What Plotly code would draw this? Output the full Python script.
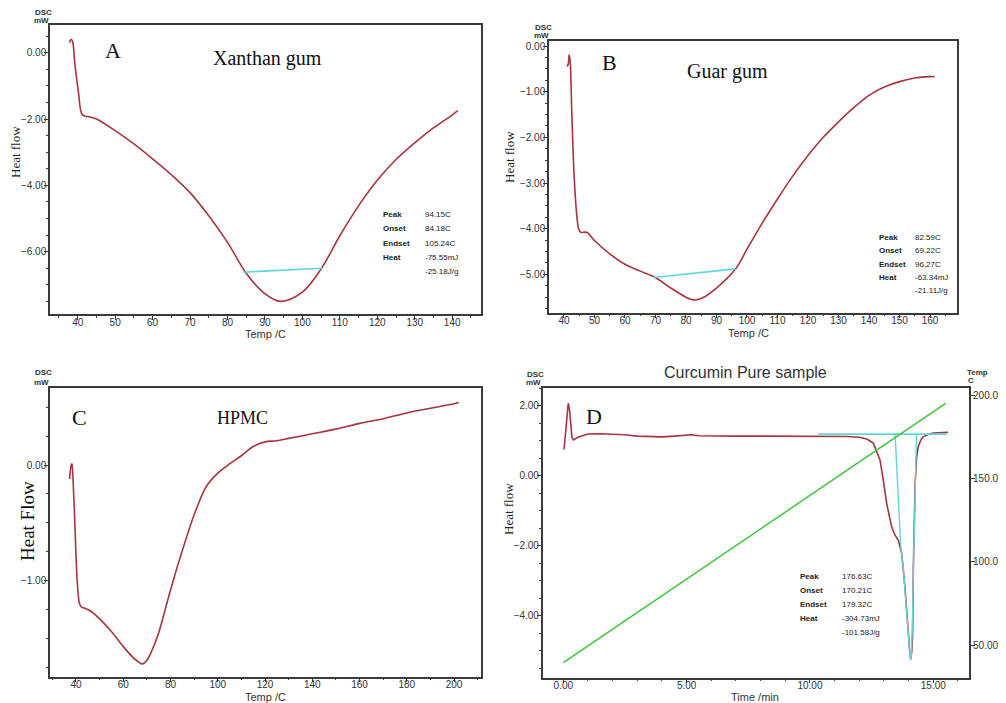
import plotly.graph_objects as go

W, H = 1006, 703
OFF = 8  # the page body margin shifts the figure by 8px
FW, FH = W - OFF, H - OFF

# ---------------- data ----------------
# Panel A : Xanthan gum
A_temp = [37.8, 38.2, 38.6, 39.2, 40.2, 41.1, 42.0, 43.0, 45.0, 50, 55, 60, 65, 70, 75, 80, 85, 90, 94.15,
          100, 105, 110, 115, 120, 125, 130, 135, 140, 141.5]
A_heat = [0.30, 0.40, 0.35, -0.30, -1.20, -1.85, -1.92, -1.93, -2.00, -2.35, -2.75, -3.20, -3.68, -4.22, -4.92,
          -5.72, -6.65, -7.27, -7.50, -7.22, -6.52, -5.52, -4.62, -3.85, -3.22, -2.72, -2.27, -1.88, -1.75]
A_base_temp = [84.18, 105.24]
A_base_heat = [-6.62, -6.50]
A_stats_labels = ["Peak", "Onset", "Endset", "Heat", ""]
A_stats_values = ["94.15C", "84.18C", "105.24C", "-75.55mJ", "-25.18J/g"]

# Panel B : Guar gum
B_temp = [41.0, 41.4, 41.7, 42.0, 42.6, 43.3, 44.2, 44.8, 45.5, 47.5, 50, 55, 60, 65, 70, 75, 80, 82.6, 85, 90,
          96.3, 100, 105, 110, 115, 120, 125, 130, 135, 140, 145, 150, 155, 160, 161.5]
B_heat = [-0.45, -0.40, -0.20, -0.30, -1.50, -2.80, -3.70, -4.00, -4.08, -4.08, -4.26, -4.55, -4.78, -4.93, -5.07,
          -5.30, -5.50, -5.56, -5.53, -5.30, -4.88, -4.45, -3.88, -3.35, -2.85, -2.40, -2.00, -1.66, -1.35,
          -1.08, -0.90, -0.78, -0.70, -0.67, -0.67]
B_base_temp = [69.22, 96.27]
B_base_heat = [-5.07, -4.88]
B_stats_labels = ["Peak", "Onset", "Endset", "Heat", ""]
B_stats_values = ["82.59C", "69.22C", "96.27C", "-63.34mJ", "-21.11J/g"]

# Panel C : HPMC
C_temp = [37.3, 37.6, 38.0, 38.3, 38.7, 39.5, 40.5, 41.5, 42.5, 44, 46, 50, 55, 60, 65, 68, 70, 72, 75, 80, 85, 90,
          95, 100, 105, 110, 115, 120, 125, 130, 140, 150, 160, 170, 180, 190, 200, 202]
C_heat = [-0.12, -0.05, 0.00, 0.01, -0.10, -0.50, -1.00, -1.20, -1.23, -1.24, -1.26, -1.33, -1.44, -1.57, -1.68,
          -1.72, -1.69, -1.61, -1.45, -1.08, -0.74, -0.43, -0.19, -0.07, 0.01, 0.08, 0.16, 0.20, 0.21, 0.23, 0.27,
          0.31, 0.36, 0.40, 0.45, 0.49, 0.53, 0.54]

# Panel D : Curcumin pure sample
D_time = [0.03, 0.10, 0.15, 0.20, 0.25, 0.30, 0.35, 0.41, 0.50, 0.60, 0.80, 1.0, 1.5, 2.0, 2.5, 3.0, 3.5, 4.0, 4.5,
          5.0, 5.2, 5.5, 6.0, 7.0, 8.0, 9.0, 10.0, 11.0, 11.5, 12.0, 12.3, 12.57, 12.84, 12.97, 13.11, 13.31, 13.45,
          13.58, 13.72, 13.85, 13.92, 13.99, 14.05, 14.09, 14.13, 14.16, 14.19, 14.26, 14.32, 14.39, 14.5, 14.59,
          14.8, 15.0, 15.3, 15.6]
D_heat = [0.75, 1.30, 1.90, 2.07, 1.90, 1.35, 1.10, 1.02, 1.06, 1.10, 1.15, 1.19, 1.20, 1.19, 1.17, 1.13, 1.11, 1.11,
          1.13, 1.16, 1.17, 1.14, 1.13, 1.13, 1.13, 1.13, 1.14, 1.13, 1.12, 1.10, 1.05, 0.93, 0.45, -0.12, -0.79,
          -1.46, -1.70, -1.84, -2.22, -3.17, -3.93, -4.60, -5.07, -5.25, -5.00, -4.60, -2.69, -0.31, 0.50, 0.83,
          1.02, 1.11, 1.18, 1.22, 1.24, 1.24]
D_peak_time = [13.45, 13.50, 13.58, 13.68, 13.78, 13.88, 13.97, 14.05, 14.10, 14.15, 14.20, 14.26, 14.32]
D_peak_heat = [1.19, 0.50, -0.80, -2.00, -2.60, -3.50, -4.40, -5.10, -5.25, -4.40, -2.50, -0.30, 1.19]
D_base_time = [10.35, 15.55]
D_base_heat = [1.19, 1.19]
D_prog_time = [0.0, 15.5]
D_prog_temp = [39.4, 195.0]
D_stats_labels = ["Peak", "Onset", "Endset", "Heat", ""]
D_stats_values = ["176.63C", "170.21C", "179.32C", "-304.73mJ", "-101.58J/g"]

# ---------------- styling ----------------
RED = "#a8343f"
CYAN = "#5ed6dc"
GREEN = "#3fc43a"
AXC = "#3a3a3a"
SERIF = "Liberation Serif"
SANS = "Liberation Sans"


def fx(p):
    return (p - OFF) / FW


def fy(p):
    return 1 - (p - OFF) / FH


fig = go.Figure()

# A
fig.add_trace(go.Scatter(x=A_temp, y=A_heat, mode="lines", line=dict(color=RED, width=1.6, shape="spline",
                         smoothing=1.0), xaxis="x", yaxis="y"))
fig.add_trace(go.Scatter(x=A_base_temp, y=A_base_heat, mode="lines", line=dict(color=CYAN, width=1.6), xaxis="x",
                         yaxis="y"))
# B
fig.add_trace(go.Scatter(x=B_temp, y=B_heat, mode="lines", line=dict(color=RED, width=1.6, shape="spline",
                         smoothing=0.8), xaxis="x2", yaxis="y2"))
fig.add_trace(go.Scatter(x=B_base_temp, y=B_base_heat, mode="lines", line=dict(color=CYAN, width=1.6), xaxis="x2",
                         yaxis="y2"))
# C
fig.add_trace(go.Scatter(x=C_temp, y=C_heat, mode="lines", line=dict(color=RED, width=1.6, shape="spline",
                         smoothing=0.8), xaxis="x3", yaxis="y3"))
# D
fig.add_trace(go.Scatter(x=D_prog_time, y=D_prog_temp, mode="lines", line=dict(color=GREEN, width=1.5), xaxis="x4",
                         yaxis="y5"))
fig.add_trace(go.Scatter(x=D_time, y=D_heat, mode="lines", line=dict(color=RED, width=1.6), xaxis="x4", yaxis="y4"))
fig.add_trace(go.Scatter(x=D_base_time, y=D_base_heat, mode="lines", line=dict(color=CYAN, width=1.8), xaxis="x4",
                         yaxis="y4"))
fig.add_trace(go.Scatter(x=D_peak_time, y=D_peak_heat, mode="lines", line=dict(color=CYAN, width=1.4), xaxis="x4",
                         yaxis="y4"))


def ax(domain, rng, dtick, minor, fmt, anchor, mirror=True, side=None, standoff=-4):
    d = dict(domain=domain, range=rng, dtick=dtick, tick0=0, tickformat=fmt, anchor=anchor,
             showline=True, linecolor=AXC, linewidth=1.5, mirror=mirror, ticks="outside", ticklen=4,
             tickwidth=1, tickcolor=AXC, showgrid=False, zeroline=False, automargin=False,
             ticklabelstandoff=standoff,
             tickfont=dict(family=SANS, size=10, color="#333"),
             minor=dict(dtick=minor, tick0=0, ticks="outside", ticklen=2, tickcolor=AXC, showgrid=False))
    if side:
        d["side"] = side
    return d


layout = dict(
    width=FW, height=FH, margin=dict(l=0, r=0, t=0, b=0), showlegend=False,
    paper_bgcolor="white", plot_bgcolor="white",
    xaxis=ax([fx(50), fx(481)], [32.6, 147.7], 10, 5, "d", "y", standoff=-6),
    yaxis=ax([fy(314), fy(25)], [-7.88, 0.835], 2, 0.5, ".2f", "x"),
    xaxis2=ax([fx(549), fx(956.7)], [35.1, 168.75], 10, 5, "d", "y2", standoff=-6),
    yaxis2=ax([fy(312.7), fy(40.7)], [-5.84, 0.116], 1, 0.25, ".2f", "x2"),
    xaxis3=ax([fx(50), fx(481)], [29, 211.4], 20, 10, "d", "y3", standoff=-6),
    yaxis3=ax([fy(676.7), fy(388.3)], [-1.83, 0.663], 1, 0.25, ".2f", "x3"),
    xaxis4=ax([fx(542.7), fx(969.3)], [-0.835, 16.46], 5, 1, ".2f", "y4", standoff=-6),
    yaxis4=ax([fy(677.7), fy(387.7)], [-5.77, 2.514], 2, 0.5, ".2f", "x4", mirror=False),
)
y5 = ax([fy(677.7), fy(387.7)], [30.4, 204.4], 50, 10, ".2f", "x4", mirror=False, side="right")
y5["overlaying"] = "y4"
y5["minor"] = dict(ticks="")
layout["yaxis5"] = y5
fig.update_layout(**layout)

ann = []


def text(x, y, s, size, family=SANS, color="#222", angle=0, xanchor="center"):
    ann.append(dict(x=fx(x), y=fy(y), xref="paper", yref="paper", text=s, showarrow=False, textangle=angle,
                    font=dict(family=family, size=size, color=color), xanchor=xanchor, yanchor="middle"))


# panel letters and sample names
text(113, 50, "A", 22, SERIF, "#111")
text(267, 58, "Xanthan gum", 20, SERIF, "#111")
text(609, 63, "B", 22, SERIF, "#111")
text(727, 72, "Guar gum", 20, SERIF, "#111")
text(79, 417, "C", 22, SERIF, "#111")
text(242, 418, "HPMC", 18, SERIF, "#111")
text(594, 416, "D", 22, SERIF, "#111")
text(745, 372, "Curcumin Pure sample", 16, SANS, "#333")

# DSC / mW unit labels
for (x1, y1, x2, y2) in [(43, 12, 41, 21), (543, 27, 541, 35), (43, 373, 41, 382), (535, 374, 533, 382)]:
    text(x1, y1, "<b>DSC</b>", 8, SANS, "#333")
    text(x2, y2, "<b>mW</b>", 8, SANS, "#333")
text(977, 373, "<b>Temp</b>", 8, SANS, "#333")
text(971, 381, "<b>C</b>", 8, SANS, "#333")

# axis titles
text(15, 152, "Heat flow", 13, SERIF, "#222", -90)
text(510, 157, "Heat flow", 13, SERIF, "#222", -90)
text(27, 521, "Heat Flow", 19, SERIF, "#111", -90)
text(508, 509, "Heat flow", 13, SERIF, "#222", -90)
text(265, 334, "Temp /C", 11, SANS, "#333")
text(748, 333, "Temp /C", 11, SANS, "#333")
text(265, 697, "Temp /C", 11, SANS, "#333")
text(755, 697, "Time /min", 11, SANS, "#333")


# stats tables
def table(lx, vx, rows, labels, values):
    for yy, l, v in zip(rows, labels, values):
        if l:
            text(lx, yy, "<b>" + l + "</b>", 8, SANS, "#222", xanchor="left")
        text(vx, yy, v, 8, SANS, "#222", xanchor="left")


table(381, 423, [215, 229, 243, 257, 271], A_stats_labels, A_stats_values)
table(877, 913, [237, 250.5, 264, 277.5, 290], B_stats_labels, B_stats_values)
table(798, 840, [576, 590, 604, 618, 632], D_stats_labels, D_stats_values)

fig.update_layout(annotations=ann)
fig.write_html("out.html")
